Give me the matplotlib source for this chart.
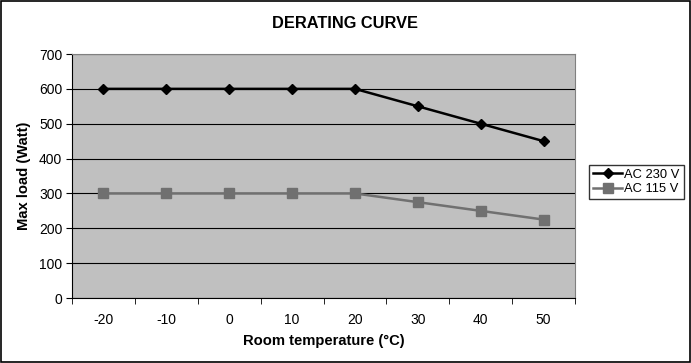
import numpy as np
import matplotlib
matplotlib.use('Agg')
import matplotlib.pyplot as plt
from matplotlib.patches import Rectangle

plt.rcParams['font.family'] = ['Liberation Sans', 'DejaVu Sans']

temps = ['-20', '-10', '0', '10', '20', '30', '40', '50']
ac230 = [600, 600, 600, 600, 600, 550, 500, 450]
ac115 = [300, 300, 300, 300, 300, 275, 250, 225]

fig = plt.figure(figsize=(6.91, 3.63), dpi=100)
ax = fig.add_axes([72/691, 1-298/363, 503/691, 244/363])
ax.set_facecolor('#c0c0c0')

x = np.arange(len(temps))
ax.plot(x, ac230, color='black', lw=1.8, marker='D', ms=5.5, label='AC 230 V', zorder=3)
ax.plot(x, ac115, color='#707070', lw=1.8, marker='s', ms=7, label='AC 115 V', zorder=3)

ax.set_xlim(-0.5, len(temps) - 0.5)
ax.set_ylim(0, 700)
ax.set_yticks(range(0, 701, 100))
ax.yaxis.grid(True, color='black', lw=0.8)
ax.set_axisbelow(True)

ax.set_xticks(x)
ax.set_xticklabels(temps)
ax.set_xticks(np.arange(-0.5, len(temps), 1), minor=True)
ax.tick_params(axis='x', which='major', length=0, pad=11, labelsize=10)
ax.tick_params(axis='x', which='minor', length=4, direction='out')
ax.tick_params(axis='y', length=4, direction='out', labelsize=10, pad=3)

for s in ['top', 'right']:
    ax.spines[s].set_color('#808080')
ax.spines['left'].set_color('black')
ax.spines['bottom'].set_color('black')

ax.set_xlabel('Room temperature (°C)', fontsize=10.6, fontweight='bold', labelpad=5)
ax.set_ylabel('Max load (Watt)', fontsize=10.6, fontweight='bold', labelpad=6)
fig.text(0.5, 1-24/363, 'DERATING CURVE', ha='center', va='center',
         fontsize=11.8, fontweight='bold')

leg = ax.legend(loc='center left', bbox_to_anchor=(511/503, 0.475),
                frameon=True, fancybox=False, edgecolor='black', fontsize=9.3,
                handlelength=2.2, borderpad=0.3, labelspacing=0.2, handletextpad=0.2)
leg.get_frame().set_linewidth(1)

fig.patches.append(Rectangle((0.002, 0.003), 0.996, 0.994, transform=fig.transFigure,
                             fill=False, edgecolor='black', lw=1.2))

fig.savefig('out.png', dpi=100)
